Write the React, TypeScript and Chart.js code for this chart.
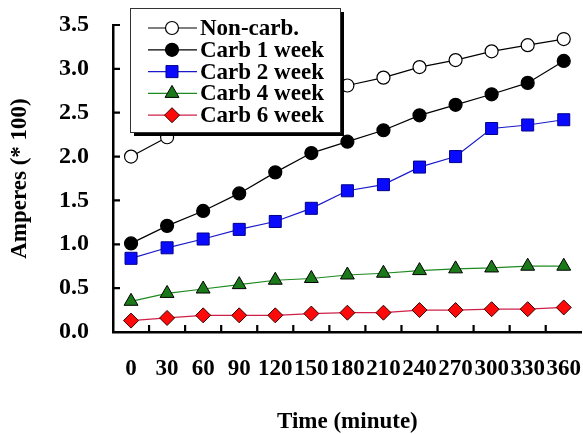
import React, { useEffect, useRef } from 'react';
import { Chart, registerables } from 'chart.js';

Chart.register(...registerables);

const times = ['0', '30', '60', '90', '120', '150', '180', '210', '240', '270', '300', '330', '360'];
const nonCarb = [2.0, 2.22, 2.38, 2.5, 2.62, 2.72, 2.81, 2.9, 3.02, 3.1, 3.2, 3.27, 3.34];
const carb1Week = [1.01, 1.21, 1.38, 1.58, 1.82, 2.04, 2.17, 2.3, 2.47, 2.59, 2.71, 2.84, 3.09];
const carb2Week = [0.84, 0.96, 1.06, 1.17, 1.26, 1.41, 1.61, 1.68, 1.88, 2.0, 2.32, 2.36, 2.42];
const carb4Week = [0.35, 0.44, 0.49, 0.54, 0.59, 0.61, 0.65, 0.67, 0.7, 0.72, 0.73, 0.75, 0.75];
const carb6Week = [0.13, 0.16, 0.19, 0.19, 0.19, 0.21, 0.22, 0.22, 0.25, 0.25, 0.26, 0.26, 0.28];
const seriesNames = ['Non-carb.', 'Carb 1 week', 'Carb 2 week', 'Carb 4 week', 'Carb 6 week'];
const yMin = 0;
const yMax = 3.5;
const yStep = 0.5;

const FONT = "'Liberation Serif', 'Times New Roman', serif";

function drawMarker(ctx: CanvasRenderingContext2D, style: string, x: number, y: number, r: number) {
  ctx.beginPath();
  if (style === 'circle') {
    ctx.arc(x, y, r, 0, Math.PI * 2);
  } else if (style === 'rect') {
    const s = Math.SQRT1_2 * r;
    ctx.rect(x - s, y - s, 2 * s, 2 * s);
  } else if (style === 'triangle') {
    let rad = 0;
    ctx.moveTo(x + Math.sin(rad) * r, y - Math.cos(rad) * r);
    rad += (2 * Math.PI) / 3;
    ctx.lineTo(x + Math.sin(rad) * r, y - Math.cos(rad) * r);
    rad += (2 * Math.PI) / 3;
    ctx.lineTo(x + Math.sin(rad) * r, y - Math.cos(rad) * r);
    ctx.closePath();
  } else if (style === 'rectRot') {
    ctx.moveTo(x - r, y);
    ctx.lineTo(x, y - r);
    ctx.lineTo(x + r, y);
    ctx.lineTo(x, y + r);
    ctx.closePath();
  }
  ctx.fill();
  ctx.stroke();
}

const boxLegend = {
  id: 'boxLegend',
  afterDraw(chart: any) {
    const ctx: CanvasRenderingContext2D = chart.ctx;
    const bx = 130, by = 8, bw = 210, bh = 124, sh = 4;
    ctx.save();
    ctx.fillStyle = '#000';
    ctx.fillRect(bx + sh, by + sh, bw, bh);
    ctx.fillStyle = '#fff';
    ctx.fillRect(bx, by, bw, bh);
    ctx.strokeStyle = '#333';
    ctx.lineWidth = 1;
    ctx.strokeRect(bx + 0.5, by + 0.5, bw, bh);
    chart.data.datasets.forEach((ds: any, i: number) => {
      const cy = by + 20 + i * 21.8;
      ctx.strokeStyle = ds.borderColor;
      ctx.lineWidth = ds.borderWidth;
      ctx.beginPath();
      ctx.moveTo(bx + 18, cy);
      ctx.lineTo(bx + 67, cy);
      ctx.stroke();
      ctx.fillStyle = ds.pointBackgroundColor;
      ctx.strokeStyle = ds.pointBorderColor;
      ctx.lineWidth = ds.pointBorderWidth;
      drawMarker(ctx, ds.pointStyle, bx + 42, cy, ds.pointRadius);
      ctx.fillStyle = '#000';
      ctx.font = `bold 23px ${FONT}`;
      ctx.textBaseline = 'middle';
      ctx.textAlign = 'left';
      ctx.fillText(ds.label, bx + 70, cy + 1);
    });
    ctx.restore();
  },
};

const inwardTicks = {
  id: 'inwardTicks',
  afterDatasetsDraw(chart: any) {
    const ctx: CanvasRenderingContext2D = chart.ctx;
    const xs = chart.scales.x;
    const ys = chart.scales.y;
    const len = 7;
    ctx.save();
    ctx.strokeStyle = '#000';
    ctx.lineWidth = 2.2;
    ctx.beginPath();
    for (let i = 0; i < times.length - 1; i++) {
      const px = (xs.getPixelForTick(i) + xs.getPixelForTick(i + 1)) / 2;
      ctx.moveTo(px, xs.top);
      ctx.lineTo(px, xs.top - len);
    }
    ys.ticks.forEach((t: any) => {
      if (t.value <= yMin) return;
      const py = ys.getPixelForValue(t.value);
      ctx.moveTo(ys.right, py);
      ctx.lineTo(ys.right + len, py);
    });
    ctx.stroke();
    ctx.restore();
  },
};

export default function App() {
  const ref = useRef<HTMLCanvasElement>(null);
  useEffect(() => {
    document.body.style.margin = '0';
    const canvas = ref.current!;
    const chart = new Chart(canvas, {
      type: 'line',
      data: {
        labels: times,
        datasets: [
          {
            label: seriesNames[0], data: nonCarb,
            borderColor: '#000', borderWidth: 1.2,
            pointStyle: 'circle', pointRadius: 6.5,
            pointBackgroundColor: '#fff', pointBorderColor: '#000', pointBorderWidth: 1.2,
          },
          {
            label: seriesNames[1], data: carb1Week,
            borderColor: '#000', borderWidth: 1.2,
            pointStyle: 'circle', pointRadius: 6.5,
            pointBackgroundColor: '#000', pointBorderColor: '#000', pointBorderWidth: 1.2,
          },
          {
            label: seriesNames[2], data: carb2Week,
            borderColor: '#1a1acc', borderWidth: 1.2,
            pointStyle: 'rect', pointRadius: 8.5,
            pointBackgroundColor: '#0a0aff', pointBorderColor: '#00008b', pointBorderWidth: 1,
          },
          {
            label: seriesNames[3], data: carb4Week,
            borderColor: '#1f8a1f', borderWidth: 1.2,
            pointStyle: 'triangle', pointRadius: 8,
            pointBackgroundColor: '#1a7a1a', pointBorderColor: '#000', pointBorderWidth: 1,
          },
          {
            label: seriesNames[4], data: carb6Week,
            borderColor: '#d0204a', borderWidth: 1.2,
            pointStyle: 'rectRot', pointRadius: 7.5,
            pointBackgroundColor: '#ff0a0a', pointBorderColor: '#300', pointBorderWidth: 1,
          },
        ],
      },
      options: {
        animation: false,
        responsive: false,
        layout: { autoPadding: false, padding: { top: 25, right: 0, left: 0, bottom: 0 } },
        plugins: { legend: { display: false }, tooltip: { enabled: false } },
        scales: {
          x: {
            offset: true,
            grid: { display: true, drawOnChartArea: false, drawTicks: true, tickLength: 21, tickColor: 'rgba(0,0,0,0)', offset: true },
            border: { display: true, color: '#000', width: 2.5 },
            ticks: {
              autoSkip: false, maxRotation: 0, minRotation: 0, padding: 2,
              color: '#000', font: { family: FONT, size: 23, weight: 'bold' },
            },
            title: {
              display: true, text: 'Time (minute)', color: '#000',
              font: { family: FONT, size: 23, weight: 'bold' },
              padding: { top: 0, bottom: -2 },
            },
            afterFit: (s: any) => { s.height = 102; },
          },
          y: {
            min: yMin, max: yMax,
            grid: { display: true, drawOnChartArea: false, drawTicks: true, tickLength: 22, tickColor: 'rgba(0,0,0,0)' },
            border: { display: true, color: '#000', width: 2.5 },
            ticks: {
              stepSize: yStep, padding: 2, color: '#000',
              font: { family: FONT, size: 24, weight: 'bold' },
              callback: (v: any) => Number(v).toFixed(1),
            },
            title: {
              display: true, text: 'Amperes (* 100)', color: '#000',
              font: { family: FONT, size: 23, weight: 'bold' },
              padding: { top: 6, bottom: 0 },
            },
            afterFit: (s: any) => { s.width = 113; },
          },
        },
      },
      plugins: [inwardTicks, boxLegend],
    });
    return () => chart.destroy();
  }, []);
  return (
    <div style={{ width: 583, height: 434 }}>
      <canvas ref={ref} width={583} height={434} style={{ display: 'block' }} />
    </div>
  );
}
